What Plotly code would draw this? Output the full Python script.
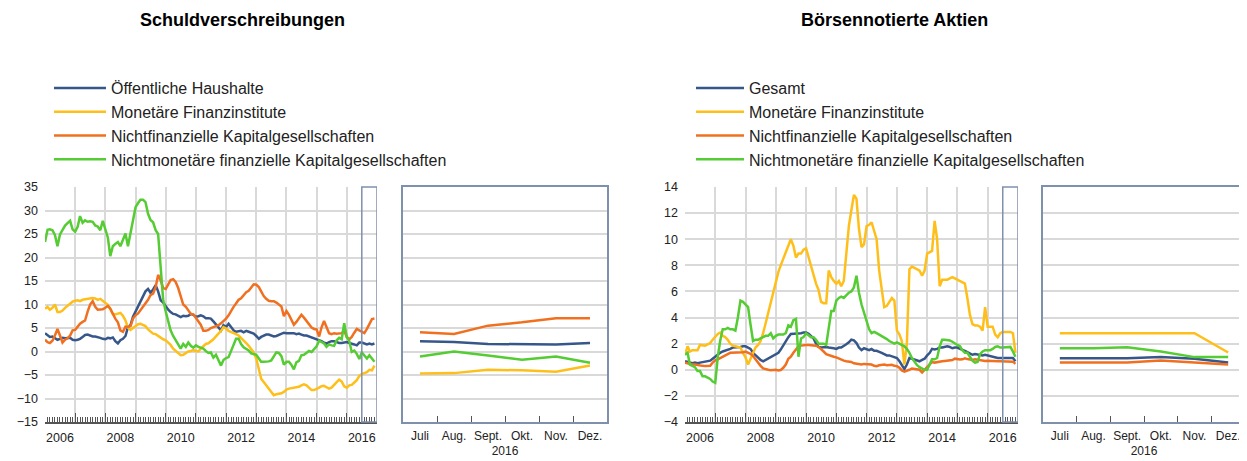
import pandas as pd
import plotly.graph_objects as go

# ---------------- data ----------------
months = pd.date_range("2006-01-01", "2016-12-01", freq="MS")
zoom_months = ["Juli", "Aug.", "Sept.", "Okt.", "Nov.", "Dez."]
label_years = [2006, 2008, 2010, 2012, 2014, 2016]

# Schuldverschreibungen (annual growth rates, %)
debt_gov = [3.9, 3.4, 3.1, 3.2, 2.8, 2.5, 2.7, 2.9, 2.8, 2.8, 2.9, 2.5,
            2.4, 2.5, 2.7, 3.1, 3.5, 3.6, 3.4, 3.2, 3.2, 3.1, 2.9, 2.7,
            2.6, 2.9, 2.8, 3.0, 2.2, 1.7, 2.4, 2.7, 3.3, 5.2, 5.6, 7.4,
            8.5, 9.5, 10.5, 11.8, 12.8, 13.3, 12.5, 13.2, 14.1, 12.8, 10.9, 10.4,
            9.6, 8.9, 8.4, 8.0, 7.9, 7.6, 7.3, 7.6, 7.5, 7.6, 8.0, 7.8,
            7.4, 7.5, 7.7, 7.5, 7.1, 7.1, 7.0, 6.4, 5.8, 5.2, 4.5, 5.6,
            5.2, 5.9, 5.2, 4.5, 4.2, 4.3, 4.4, 4.1, 4.4, 4.2, 4.0, 3.8,
            3.3, 2.7, 3.1, 3.4, 3.6, 3.6, 3.4, 3.2, 3.3, 3.5, 3.8, 4.0,
            3.9, 3.9, 4.0, 3.9, 3.7, 3.8, 3.6, 3.4, 3.4, 3.2, 3.1, 2.9,
            2.7, 2.5, 2.2, 1.9, 1.7, 2.0, 2.2, 2.2, 2.0, 1.8, 1.8, 1.9,
            2.0, 1.8, 1.7, 1.5, 1.3, 1.9, 1.9, 1.7, 1.5, 1.7, 1.5, 1.7]
debt_mfi = [9.1, 9.5, 8.9, 9.3, 10.0, 8.4, 8.4, 8.7, 9.3, 9.8, 10.2, 10.6,
            10.8, 10.9, 10.7, 11.0, 11.1, 11.2, 11.2, 11.4, 11.3, 11.0, 11.2, 10.8,
            10.3, 9.9, 9.1, 7.9, 7.9, 8.1, 8.2, 7.6, 6.6, 5.1, 4.6, 5.0,
            5.5, 5.8, 5.9, 5.7, 5.4, 4.7, 4.2, 3.8, 3.7, 3.3, 3.0, 2.6,
            2.4, 1.9, 1.4, 0.6, 0.1, -0.4, -0.8, -0.7, -0.3, 0.0, 0.1, 0.3,
            0.1, 0.0, 0.6, 1.1, 1.6, 1.75, 2.1, 2.6, 3.2, 3.7, 4.4, 5.2,
            4.9, 4.4, 4.2, 4.0, 3.7, 3.4, 2.9, 2.5, 1.8, 1.2, 0.5, -0.2,
            -1.5, -3.8, -5.8, -6.5, -7.2, -8.0, -8.5, -9.3, -9.1, -9.0, -8.9, -8.6,
            -8.1, -7.9, -7.8, -7.7, -7.6, -7.5, -7.2, -7.0, -7.2, -7.7, -8.2, -8.2,
            -8.0, -7.7, -7.4, -7.3, -7.6, -7.9, -7.7, -7.2, -6.5, -6.0, -6.4, -7.4,
            -7.7, -7.2, -7.1, -6.6, -6.1, -5.2, -4.8, -4.6, -4.4, -3.9, -4.0, -3.0]
debt_nfc = [2.5, 2.0, 1.8, 2.3, 3.4, 4.8, 3.4, 1.9, 2.5, 2.8, 3.4, 4.5,
            4.6, 5.3, 5.9, 6.3, 6.6, 8.5, 10.0, 10.7, 9.5, 8.9, 8.9, 9.0,
            9.3, 9.7, 9.1, 8.0, 7.0, 6.2, 4.5, 4.2, 5.3, 5.2, 5.4, 7.0,
            7.7, 8.1, 8.8, 9.5, 10.2, 11.0, 12.0, 12.3, 13.7, 16.3, 15.1, 13.5,
            13.3, 14.2, 15.2, 15.4, 14.8, 13.5, 11.8, 10.0, 9.5, 8.7, 8.0, 7.9,
            7.1, 6.4, 5.7, 4.4, 4.4, 4.6, 5.0, 5.2, 5.4, 5.6, 6.0, 6.4,
            7.0, 7.7, 8.7, 9.5, 10.2, 11.0, 11.3, 12.0, 12.6, 12.9, 13.6, 14.3,
            14.2, 13.7, 12.8, 11.8, 11.2, 10.8, 10.7, 10.7, 10.4, 10.0, 9.6, 7.5,
            8.6, 7.8, 6.8, 5.7, 6.3, 7.2, 7.8, 7.2, 6.5, 5.6, 5.1, 4.8,
            4.7, 3.2, 5.1, 6.5, 5.3, 3.9, 3.7, 3.9, 3.8, 3.9, 3.9, 4.4,
            3.1, 2.6, 3.1, 4.0, 4.8, 4.5, 4.2, 3.9, 4.8, 6.0, 6.9, 7.0]
debt_ofi = [23.3, 25.9, 26.0, 25.8, 24.8, 22.4, 24.9, 26.0, 26.8, 27.3, 27.8, 26.0,
            25.5, 26.6, 28.8, 27.4, 27.9, 27.6, 27.7, 27.6, 26.8, 26.6, 25.8, 27.8,
            26.1, 24.2, 20.3, 22.4, 22.9, 23.3, 22.4, 23.8, 25.1, 22.4, 25.5, 28.5,
            30.7, 31.6, 32.3, 32.3, 31.8, 29.3, 28.0, 27.5, 25.8, 25.0, 18.7, 11.0,
            8.5, 6.2, 4.5, 3.3, 2.3, 1.5, 0.6, 1.6, 1.0, 1.9, 1.2, 0.8,
            1.3, 1.0, 0.8, 0.6, 0.1, -0.3, -0.2, -1.3, -0.7, -1.7, -3.0, -1.8,
            -1.4, -1.2, 0.0, 1.3, 2.7, 2.7, 1.6, 0.9, 0.5, 0.2, -0.4, -0.5,
            -0.7, -1.5, -2.2, -2.2, -2.2, -2.1, -1.9, -1.0, -0.2, -0.3, -1.0, -2.8,
            -2.2, -2.2, -2.8, -3.8, -2.3, -2.0, -0.8, -0.7, -0.3, 0.1, -0.1, 0.4,
            1.1, 2.3, 2.0, 1.7, 1.0, 1.5, 1.3, 1.2, 2.4, 2.9, 2.6, 6.0,
            3.1, 2.2, -0.1, 0.2, -0.5, -1.6, -0.2, -0.8, -1.5, -0.8, -1.4, -2.2]

# Börsennotierte Aktien (annual growth rates, %)
eq_total = [0.65, 0.6, 0.6, 0.5, 0.55, 0.5, 0.55, 0.6, 0.62, 0.65, 0.7, 0.85,
            1.0, 1.2, 1.3, 1.4, 1.45, 1.55, 1.6, 1.7, 1.7, 1.7, 1.75, 1.8,
            1.8, 1.7, 1.6, 1.3, 1.1, 0.9, 0.75, 0.65, 0.75, 0.85, 0.95, 1.05,
            1.2, 1.3, 1.55, 1.9, 2.2, 2.5, 2.75, 2.75, 2.8, 2.78, 2.8, 2.85,
            2.85, 2.75, 2.6, 2.4, 2.0, 1.75, 1.7, 1.75, 1.75, 1.7, 1.7, 1.65,
            1.6, 1.7, 1.7, 1.8, 1.95, 2.1, 2.3, 2.25, 2.05, 1.7, 1.5, 1.65,
            1.55, 1.5, 1.6, 1.45, 1.45, 1.4, 1.3, 1.2, 1.1, 1.1, 1.05, 1.0,
            0.9, 0.65, 0.4, 0.05, 0.4, 0.9, 0.85, 0.8, 0.75, 0.65, 0.75, 0.85,
            1.1, 1.3, 1.6, 1.55, 1.6, 1.7, 1.7, 1.75, 1.8, 1.75, 1.65, 1.7,
            1.7, 1.6, 1.5, 1.45, 1.35, 1.25, 1.15, 1.2, 1.15, 1.15, 1.1, 1.15,
            1.1, 1.0, 0.95, 0.9, 0.9, 0.9, 0.9, 0.9, 0.9, 0.9, 0.9, 0.65]
eq_mfi = [1.15, 1.8, 1.4, 1.5, 1.5, 1.5, 1.9, 1.9, 1.85, 1.95, 2.05, 2.3,
          2.55, 2.75, 2.85, 2.6, 2.5, 2.3, 2.0, 1.85, 1.8, 1.75, 1.7, 1.3,
          0.95, 0.4, 0.8, 1.3, 1.7, 1.9, 2.2, 2.8, 3.6, 4.3, 5.2, 6.0,
          6.6, 7.5, 8.0, 8.5, 9.0, 9.6, 10.0, 9.5, 8.6, 8.9, 8.9, 9.2,
          9.3, 8.6, 8.0, 7.2, 6.6, 6.1, 5.2, 5.1, 5.1, 7.6, 7.1, 6.8,
          6.6, 6.8, 6.4, 6.8, 8.9, 11.0, 12.2, 13.4, 13.1, 10.8, 9.4, 9.6,
          11.0, 11.1, 11.3, 10.7, 10.0, 7.6, 6.0, 4.8, 4.9, 5.2, 5.5, 5.3,
          3.0, 2.7, 2.2, 0.4, 2.0, 7.7, 7.9, 7.8, 7.7, 7.6, 7.2, 7.6,
          8.9, 9.0, 9.1, 11.4, 10.0, 6.4, 6.9, 6.9, 6.9, 7.0, 7.1, 7.0,
          6.9, 6.8, 6.7, 6.6, 5.5, 4.2, 3.5, 3.4, 3.4, 3.3, 3.0, 4.8,
          3.3, 3.3, 3.3, 2.7, 2.5, 2.8, 2.9, 2.9, 2.9, 2.9, 2.8, 1.3]
eq_nfc = [0.55, 0.5, 0.4, 0.4, 0.4, 0.35, 0.3, 0.3, 0.28, 0.27, 0.3, 0.55,
          0.72, 0.8, 0.88, 0.98, 1.1, 1.2, 1.3, 1.3, 1.3, 1.3, 1.3, 1.35,
          1.4, 1.32, 1.22, 1.05, 0.8, 0.5, 0.3, 0.1, 0.02, 0.0, -0.03, -0.02,
          0.0, -0.05, -0.02, 0.15, 0.4, 0.85, 1.0, 1.3, 1.6, 1.8, 1.85, 1.9,
          1.9, 1.9, 1.9, 1.88, 1.85, 1.75, 1.6, 1.4, 1.2, 1.12, 1.05, 1.0,
          0.95, 0.85, 0.78, 0.7, 0.65, 0.65, 0.6, 0.5, 0.45, 0.4, 0.4, 0.45,
          0.42, 0.4, 0.4, 0.3, 0.28, 0.35, 0.4, 0.4, 0.35, 0.35, 0.38, 0.3,
          0.28, 0.15, -0.05, -0.15, -0.1, 0.0, 0.1, 0.05, 0.02, 0.0, -0.2, 0.0,
          0.2, 0.4, 0.6, 0.55, 0.6, 0.65, 0.65, 0.68, 0.7, 0.7, 0.75, 0.85,
          0.8, 0.78, 0.8, 0.88, 0.82, 0.78, 0.76, 0.8, 0.77, 0.73, 0.7, 0.67,
          0.7, 0.68, 0.65, 0.65, 0.65, 0.65, 0.65, 0.65, 0.65, 0.65, 0.62, 0.45]
eq_ofi = [1.15, 1.3, 0.4, 0.3, 0.2, -0.1, -0.1, -0.5, -0.5, -0.6, -0.7, -0.9,
          -1.0, 1.0, 2.2, 3.1, 3.1, 3.2, 3.1, 3.1, 3.0, 4.0, 5.3, 5.2,
          5.0, 4.8, 3.5, 2.2, 2.3, 2.3, 2.4, 2.5, 2.6, 2.6, 2.8, 2.4,
          2.6, 2.7, 2.7, 2.7, 2.8, 3.4, 3.3, 3.8, 3.9, 1.0, 2.4, 2.5,
          2.8, 2.6, 2.5, 2.5, 2.3, 2.0, 2.0, 2.0, 1.9, 3.2, 4.5, 4.5,
          5.3, 5.5, 5.6, 5.5, 5.7, 5.9, 6.0, 6.3, 7.2, 5.9, 5.0, 4.4,
          3.8, 3.1, 2.8, 2.9, 2.8, 2.7, 2.6, 2.5, 2.35, 2.2, 2.1, 2.0,
          2.1, 2.0, 1.9, 1.8, 1.6, 1.3, 0.9, 0.6, 0.35, 0.2, 0.1, 0.0,
          0.0, 0.5, 0.8, 0.8, 0.9, 1.8, 2.3, 2.3, 2.3, 2.25, 2.15, 2.0,
          1.9, 1.8, 1.5, 1.3, 1.3, 1.0, 0.7, 0.55, 0.6, 1.2, 1.4, 1.5,
          1.5, 1.5, 1.6, 1.75, 1.8, 1.7, 1.7, 1.7, 1.75, 1.75, 1.4, 1.0]

# zoom panels July - December 2016
debt_gov_z = [2.2, 2.0, 1.6, 1.5, 1.5, 1.8]
debt_mfi_z = [-4.7, -4.6, -3.9, -4.0, -4.3, -3.0]
debt_nfc_z = [4.1, 3.75, 5.5, 6.2, 7.07, 7.07]
debt_ofi_z = [-1.06, 0.0, -0.85, -1.77, -1.06, -2.4]
eq_total_z = [0.89, 0.89, 0.89, 0.97, 0.84, 0.56]
eq_mfi_z = [2.8, 2.8, 2.8, 2.8, 2.8, 1.32]
eq_nfc_z = [0.56, 0.56, 0.56, 0.71, 0.58, 0.41]
eq_ofi_z = [1.65, 1.65, 1.73, 1.4, 0.97, 0.97]

names_left = ["Öffentliche Haushalte", "Monetäre Finanzinstitute",
              "Nichtfinanzielle Kapitalgesellschaften",
              "Nichtmonetäre finanzielle Kapitalgesellschaften"]
names_right = ["Gesamt", "Monetäre Finanzinstitute",
               "Nichtfinanzielle Kapitalgesellschaften",
               "Nichtmonetäre finanzielle Kapitalgesellschaften"]

# ---------------- style ----------------
BLUE, YELLOW, ORANGE, GREEN = "#37578a", "#ffbf1a", "#f07020", "#55cc33"
COLORS = [BLUE, YELLOW, ORANGE, GREEN]
FRAME = "#7f90ad"
GRID = "#d9d9d9"
AXIS = "#555555"
TEXT = "#222222"
FONT = "Arial, Liberation Sans, sans-serif"
# the page body adds an 8px margin: the figure is placed at (8, 8) in the window
OFF = 8
W, H = 1247 - OFF, 461 - OFF
LW = 2.5

def px(a):          # window x pixel -> paper fraction
    return (a - OFF) / W

def py(b):          # window y pixel -> paper fraction
    return 1 - (b - OFF) / H

ydom = [py(422), py(187)]

fig = go.Figure()

left_main = [debt_gov, debt_mfi, debt_nfc, debt_ofi]
left_zoom = [debt_gov_z, debt_mfi_z, debt_nfc_z, debt_ofi_z]
right_main = [eq_total, eq_mfi, eq_nfc, eq_ofi]
right_zoom = [eq_total_z, eq_mfi_z, eq_nfc_z, eq_ofi_z]

for name, ys, col in zip(names_left, left_main, COLORS):
    fig.add_trace(go.Scatter(x=months, y=ys, mode="lines", name=name,
                             line=dict(color=col, width=LW), xaxis="x", yaxis="y",
                             legend="legend"))
for ys, col in zip(left_zoom, COLORS):
    fig.add_trace(go.Scatter(x=zoom_months, y=ys, mode="lines", showlegend=False,
                             line=dict(color=col, width=LW), xaxis="x2", yaxis="y2"))
for name, ys, col in zip(names_right, right_main, COLORS):
    fig.add_trace(go.Scatter(x=months, y=ys, mode="lines", name=name,
                             line=dict(color=col, width=LW), xaxis="x3", yaxis="y3",
                             legend="legend2"))
for ys, col in zip(right_zoom, COLORS):
    fig.add_trace(go.Scatter(x=zoom_months, y=ys, mode="lines", showlegend=False,
                             line=dict(color=col, width=LW), xaxis="x4", yaxis="y4"))
# carriers for the year-label overlay axes
fig.add_trace(go.Scatter(x=[months[0]], y=[None], mode="lines", showlegend=False,
                         hoverinfo="skip", xaxis="x5", yaxis="y"))
fig.add_trace(go.Scatter(x=[months[0]], y=[None], mode="lines", showlegend=False,
                         hoverinfo="skip", xaxis="x6", yaxis="y3"))

xrange = ["2006-01-01", "2017-01-01"]
label_vals = [f"{y}-07-01" for y in label_years]
label_txt = [str(y) for y in label_years]

tickfont = dict(family=FONT, size=12.5, color=TEXT)

def main_x(domain, anchor):
    return dict(domain=domain, anchor=anchor, type="date", range=xrange,
                automargin=False,
                tickmode="linear", tick0="2006-01-01", dtick="M12",
                ticks="inside", ticklen=9, tickwidth=1, tickcolor=AXIS,
                showticklabels=False, showgrid=True, gridcolor=GRID, gridwidth=1.5,
                showline=True, linecolor=AXIS, linewidth=1.5, zeroline=False,
                minor=dict(tickmode="linear", tick0="2006-01-01", dtick="M1",
                           ticks="inside", ticklen=5, tickwidth=1, tickcolor=AXIS,
                           showgrid=False))

def label_x(over, anchor):
    return dict(overlaying=over, anchor=anchor, type="date", range=xrange,
                automargin=False,
                side="bottom", tickmode="array", tickvals=label_vals, ticktext=label_txt,
                ticks="", showgrid=False, showline=False, zeroline=False,
                tickfont=tickfont, ticklabelstandoff=6, tickangle=0)

def main_y(domain, anchor, rng, dt):
    return dict(domain=domain, anchor=anchor, range=rng, tickmode="linear",
                automargin=False,
                tick0=rng[0], dtick=dt, showgrid=True, gridcolor=GRID, gridwidth=1.5,
                zeroline=False, showline=False, ticks="", tickfont=tickfont,
                ticklabelstandoff=6)

def zoom_x(domain, anchor):
    return dict(domain=domain, anchor=anchor, type="category", range=[-0.5, 5.5],
                automargin=False, tickangle=0,
                tickson="boundaries", ticks="inside", ticklen=6, tickcolor=AXIS,
                tickwidth=1, showgrid=False, showline=True, mirror=True,
                linecolor=FRAME, linewidth=1.5, zeroline=False,
                tickfont=dict(family=FONT, size=12, color=TEXT),
                ticklabelstandoff=2,
                title=dict(text="2016", font=dict(family=FONT, size=12, color=TEXT),
                           standoff=4))

def zoom_y(domain, anchor, rng, dt):
    return dict(domain=domain, anchor=anchor, range=rng, tickmode="linear",
                automargin=False,
                tick0=rng[0], dtick=dt, showgrid=True, gridcolor=GRID, gridwidth=1.5,
                zeroline=False, showline=True, mirror=True, linecolor=FRAME,
                linewidth=1.5, showticklabels=False, ticks="")

legfont = dict(family=FONT, size=16, color=TEXT)

fig.update_layout(
    template="none",
    width=W, height=H, autosize=False,
    margin=dict(l=0, r=0, t=0, b=0, pad=0),
    paper_bgcolor="white", plot_bgcolor="white",
    font=dict(family=FONT, color=TEXT),
    xaxis=main_x([px(45), px(377)], "y"),
    yaxis=main_y(ydom, "x", [-15, 35], 5),
    xaxis2=zoom_x([px(403), px(607)], "y2"),
    yaxis2=zoom_y(ydom, "x2", [-15, 35], 5),
    xaxis3=main_x([px(685), px(1018)], "y3"),
    yaxis3=main_y(ydom, "x3", [-4, 14], 2),
    xaxis4=zoom_x([px(1043), px(1245)], "y4"),
    yaxis4=zoom_y(ydom, "x4", [-4, 14], 2),
    xaxis5=label_x("x", "y"),
    xaxis6=label_x("x3", "y3"),
    legend=dict(x=px(49), y=py(71), xanchor="left", yanchor="top",
                bgcolor="rgba(0,0,0,0)", font=legfont, itemwidth=52,
                traceorder="normal", borderwidth=0),
    legend2=dict(x=px(691), y=py(71), xanchor="left", yanchor="top",
                 bgcolor="rgba(0,0,0,0)", font=legfont, itemwidth=48,
                 traceorder="normal", borderwidth=0),
    showlegend=True,
    annotations=[
        dict(text="<b>Schuldverschreibungen</b>", x=px(242), y=py(20),
             xref="paper", yref="paper", xanchor="center", yanchor="middle",
             showarrow=False, font=dict(family=FONT, size=18, color="#000000")),
        dict(text="<b>Börsennotierte Aktien</b>", x=px(894), y=py(20),
             xref="paper", yref="paper", xanchor="center", yanchor="middle",
             showarrow=False, font=dict(family=FONT, size=18, color="#000000")),
    ],
    shapes=[
        dict(type="rect", xref="x", yref="y domain", x0="2016-07-01", x1="2017-01-01",
             y0=0, y1=1, line=dict(color=FRAME, width=1.5), fillcolor="rgba(0,0,0,0)",
             layer="above"),
        dict(type="rect", xref="x3", yref="y3 domain", x0="2016-07-01", x1="2017-01-01",
             y0=0, y1=1, line=dict(color=FRAME, width=1.5), fillcolor="rgba(0,0,0,0)",
             layer="above"),
    ],
)

fig.write_html("out.html")
